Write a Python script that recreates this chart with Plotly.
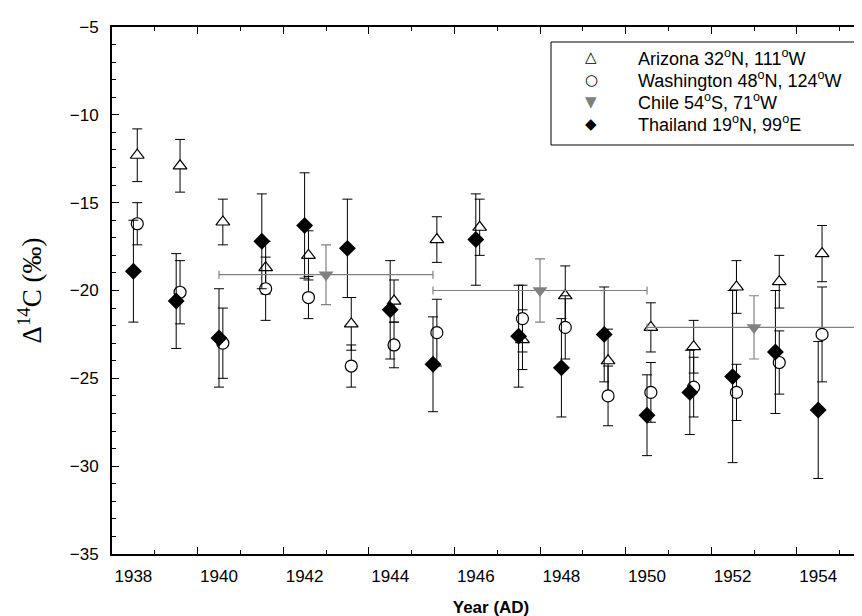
import plotly.graph_objects as go

# ---------------- data ----------------
az_x = [1938.09, 1939.09, 1940.09, 1941.09, 1942.09, 1943.09, 1944.09, 1945.09, 1946.09,
        1947.09, 1948.09, 1949.09, 1950.09, 1951.09, 1952.09, 1953.09, 1954.09]
az_y = [-12.3, -12.9, -16.1, -18.7, -18.0, -21.9, -20.6, -17.1, -16.4,
        -22.8, -20.3, -24.0, -22.1, -23.2, -19.8, -19.5, -17.9]
az_e = [1.5, 1.5, 1.3, 1.5, 1.4, 1.5, 1.2, 1.3, 1.6,
        1.7, 1.7, 1.8, 1.4, 1.5, 1.5, 1.5, 1.6]

wa_x = [1938.09, 1939.09, 1940.09, 1941.09, 1942.09, 1943.09, 1944.09, 1945.09,
        1947.09, 1948.09, 1949.09, 1950.09, 1951.09, 1952.09, 1953.09, 1954.09]
wa_y = [-16.2, -20.1, -23.0, -19.9, -20.4, -24.3, -23.1, -22.4,
        -21.6, -22.1, -26.0, -25.8, -25.5, -25.8, -24.1, -22.5]
wa_e = [1.2, 1.8, 2.0, 1.8, 1.2, 1.2, 1.3, 1.9,
        1.9, 1.8, 1.7, 1.7, 1.7, 1.6, 1.8, 2.7]

ch_x = [1942.5, 1947.5, 1952.5]
ch_y = [-19.1, -20.0, -22.1]
ch_ex = [2.5, 2.5, 2.5]
ch_ey = [1.7, 1.8, 1.8]

th_x = [1938.0, 1939.0, 1940.0, 1941.0, 1942.0, 1943.0, 1944.0, 1945.0, 1946.0,
        1947.0, 1948.0, 1949.0, 1950.0, 1951.0, 1952.0, 1953.0, 1954.0]
th_y = [-18.9, -20.6, -22.7, -17.2, -16.3, -17.6, -21.1, -24.2, -17.1,
        -22.6, -24.4, -22.5, -27.1, -25.8, -24.9, -23.5, -26.8]
th_e = [2.9, 2.7, 2.8, 2.7, 3.0, 2.8, 2.8, 2.7, 2.6,
        2.9, 2.8, 2.7, 2.3, 2.4, 4.9, 3.5, 3.9]

year_labels = [1938, 1940, 1942, 1944, 1946, 1948, 1950, 1952, 1954]
major_x_ticks = [1939.5, 1941.5, 1943.5, 1945.5, 1947.5, 1949.5, 1951.5, 1953.5]
minor_x_ticks = [1938.5, 1940.5, 1942.5, 1944.5, 1946.5, 1948.5, 1950.5, 1952.5, 1954.5]

names = ["Arizona 32<sup>o</sup>N, 111<sup>o</sup>W",
         "Washington 48<sup>o</sup>N, 124<sup>o</sup>W",
         "Chile 54<sup>o</sup>S, 71<sup>o</sup>W",
         "Thailand 19<sup>o</sup>N, 99<sup>o</sup>E"]
legend_glyphs = ["\u25B3", "\u25CB", "\u25BC", "\u25C6"]
legend_colors = ["black", "black", "#808080", "black"]

FONT = "Liberation Sans, Arial, sans-serif"

# figure geometry (pixels)
W, H = 862, 616
ML, MR, MT, MB = 104, 0, 19, 70
PW, PH = W - ML - MR, H - MT - MB


def px_x(px):
    return (px - ML) / PW


def px_y(py):
    return (H - MB - py) / PH


fig = go.Figure()

fig.add_trace(go.Scatter(
    x=az_x, y=az_y, mode="markers", name=names[0],
    marker=dict(symbol="triangle-up", size=12, color="white",
                line=dict(color="black", width=1.2)),
    error_y=dict(type="data", array=az_e, color="black", thickness=1, width=5)))

fig.add_trace(go.Scatter(
    x=wa_x, y=wa_y, mode="markers", name=names[1],
    marker=dict(symbol="circle", size=12, color="white",
                line=dict(color="black", width=1.2)),
    error_y=dict(type="data", array=wa_e, color="black", thickness=1, width=5)))

fig.add_trace(go.Scatter(
    x=ch_x, y=ch_y, mode="markers", name=names[2], xaxis="x2",
    marker=dict(symbol="triangle-down", size=13, color="#808080",
                line=dict(color="#808080", width=0)),
    error_x=dict(type="data", array=ch_ex, color="#808080", thickness=1.2, width=4),
    error_y=dict(type="data", array=ch_ey, color="#808080", thickness=1.2, width=5)))

fig.add_trace(go.Scatter(
    x=th_x, y=th_y, mode="markers", name=names[3],
    marker=dict(symbol="diamond", size=13, color="black",
                line=dict(color="black", width=0)),
    error_y=dict(type="data", array=th_e, color="black", thickness=1, width=5)))

# ---- legend box drawn as shape + text annotations ----
box_left, box_right, box_top, box_bottom = 543, 857, 34, 137
row_y = [49.5, 71.5, 93.5, 115.5]
glyph_x, text_x = 583, 628

fig.add_shape(type="rect", xref="paper", yref="paper",
              x0=px_x(box_left), x1=px_x(box_right),
              y0=px_y(box_bottom), y1=px_y(box_top),
              line=dict(color="black", width=1), fillcolor="white", layer="above")

annotations = []
for gname, gcol, label, ry in zip(legend_glyphs, legend_colors, names, row_y):
    annotations.append(dict(xref="paper", yref="paper", x=px_x(glyph_x), y=px_y(ry),
                            text=gname, showarrow=False, xanchor="center", yanchor="middle",
                            font=dict(family="DejaVu Sans", size=15, color=gcol)))
    annotations.append(dict(xref="paper", yref="paper", x=px_x(text_x), y=px_y(ry),
                            text=label, showarrow=False, xanchor="left", yanchor="middle",
                            font=dict(family=FONT, size=18, color="black")))

fig.update_layout(
    width=W, height=H,
    margin=dict(l=ML, r=MR, t=MT, b=MB),
    paper_bgcolor="white", plot_bgcolor="white",
    font=dict(family=FONT, size=17, color="black"),
    showlegend=False,
    annotations=annotations,
    xaxis=dict(range=[1937.5, 1955.21], showline=True, linecolor="black", linewidth=2,
               mirror="ticks", ticks="inside", ticklen=7, tickwidth=1, tickcolor="black",
               tickvals=major_x_ticks, showticklabels=False,
               showgrid=False, zeroline=False,
               minor=dict(tickvals=minor_x_ticks, ticks="inside", ticklen=4,
                          tickcolor="black", tickwidth=1, showgrid=False)),
    xaxis2=dict(overlaying="x", matches="x", anchor="y", side="bottom",
                tickvals=year_labels, ticks="", showline=False, showgrid=False,
                zeroline=False, tickfont=dict(family=FONT, size=17),
                ticklabelstandoff=10,
                title=dict(text="<b>Year (AD)</b>", font=dict(family=FONT, size=17),
                           standoff=16)),
    yaxis=dict(range=[-35, -5], showline=True, linecolor="black", linewidth=2,
               ticks="inside", ticklen=7, tickwidth=1, tickcolor="black",
               tick0=-35, dtick=5, showgrid=False, zeroline=False,
               tickfont=dict(family=FONT, size=17), ticklabelstandoff=8,
               minor=dict(dtick=1, ticks="inside", ticklen=4, tickcolor="black",
                          tickwidth=1, showgrid=False),
               title=dict(text="Δ<sup>14</sup>C (‰)",
                          font=dict(family="Liberation Serif, Times New Roman, serif", size=27),
                          standoff=20)),
)

fig.write_html("out.html")
